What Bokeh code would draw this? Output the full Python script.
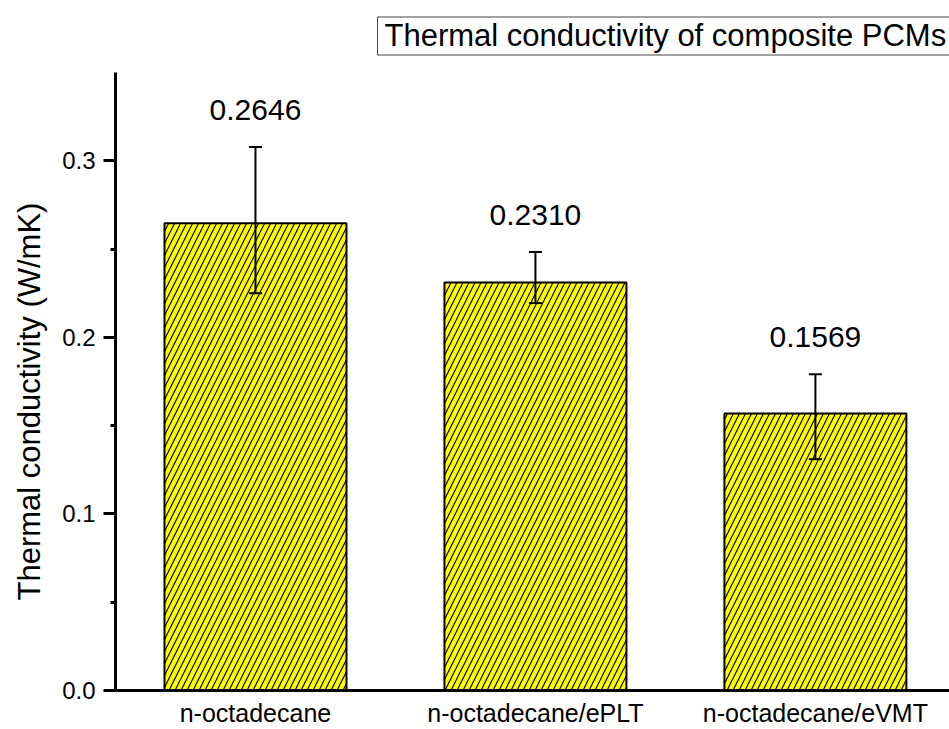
from bokeh.plotting import figure
from bokeh.models import (ColumnDataSource, Range1d, Whisker, TeeHead, Title,
                          FixedTicker, SingleIntervalTicker, PrintfTickFormatter, LabelSet)
from bokeh.embed import file_html
from bokeh.resources import INLINE
from bokeh.core.properties import value

# ---- data ----
categories = ["n-octadecane", "n-octadecane/ePLT", "n-octadecane/eVMT"]
conductivity = [0.2646, 0.2310, 0.1569]
err_upper = [0.3078, 0.2483, 0.1791]
err_lower = [0.2250, 0.2194, 0.1310]
value_labels = ["0.2646", "0.2310", "0.1569"]
title_text = "Thermal conductivity of composite PCMs"
y_label = "Thermal conductivity (W/mK)"

FONT = "Liberation Sans"

xpos = [i + 1 for i in range(len(categories))]
src = ColumnDataSource(dict(x=xpos, top=conductivity, upper=err_upper,
                            lower=err_lower, lab=value_labels))

W, H = 949, 729
p = figure(width=W, height=H, output_backend="svg", toolbar_location=None,
           x_range=Range1d(0.5, 3.479), y_range=Range1d(0, 0.35),
           min_border_left=115, min_border_right=0, min_border_top=72,
           min_border_bottom=39)
p.outline_line_color = None
p.grid.grid_line_color = None
p.background_fill_color = "white"
p.border_fill_color = "white"

p.vbar(x="x", top="top", width=0.65, source=src, fill_color="#FFFF00",
       line_color="black", line_width=2, hatch_pattern="/", hatch_color="black",
       hatch_scale=12, hatch_weight=1.2)

w = Whisker(base="x", upper="upper", lower="lower", source=src,
            line_color="black", line_width=2, level="annotation",
            upper_head=TeeHead(size=13, line_width=2, line_color="black"),
            lower_head=TeeHead(size=13, line_width=2, line_color="black"))
p.add_layout(w)

labels = LabelSet(x="x", y="upper", text="lab", source=src, y_offset=27,
                  text_align="center", text_baseline="alphabetic",
                  text_font=value(FONT), text_font_size="30px", text_color="black")
p.add_layout(labels)

# x axis
xa = p.xaxis[0]
xa.ticker = FixedTicker(ticks=xpos)
xa.major_label_overrides = {x: c for x, c in zip(xpos, categories)}
xa.axis_line_width = 3
xa.axis_line_color = "black"
xa.major_tick_line_color = None
xa.major_tick_out = 0
xa.major_tick_in = 0
xa.minor_tick_line_color = None
xa.minor_tick_out = 0
xa.major_label_text_font = FONT
xa.major_label_text_font_size = "25px"
xa.major_label_text_color = "black"
xa.major_label_standoff = 8

# y axis
ya = p.yaxis[0]
ya.ticker = SingleIntervalTicker(interval=0.1, num_minor_ticks=2)
ya.formatter = PrintfTickFormatter(format="%.1f")
ya.axis_line_width = 3
ya.axis_line_color = "black"
ya.major_tick_line_width = 3
ya.major_tick_line_color = "black"
ya.major_tick_in = 0
ya.major_tick_out = 12
ya.minor_tick_line_width = 3
ya.minor_tick_line_color = "black"
ya.minor_tick_in = 0
ya.minor_tick_out = 5
ya.major_label_text_font = FONT
ya.major_label_text_font_size = "24px"
ya.major_label_text_color = "black"
ya.major_label_standoff = 8

# y-axis title (as a left Title so it can be shifted along the axis)
ytitle = Title(text=y_label, align="left", offset=90, standoff=22,
               vertical_align="top",
               text_font=FONT, text_font_size="31px", text_font_style="normal",
               text_color="black")
p.add_layout(ytitle, "left")

# boxed title
p.title.text = title_text
p.title.align = "left"
p.title.offset = 262
p.title.standoff = 31
p.title.vertical_align = "top"
p.title.text_font = FONT
p.title.text_font_size = "31px"
p.title.text_font_style = "normal"
p.title.text_color = "black"
p.title.border_line_color = "#444444"
p.title.border_line_width = 1
p.title.background_fill_color = "white"
p.title.padding = dict(left=7, right=7, top=1, bottom=2)

open("out.html", "w").write(file_html(p, INLINE))
